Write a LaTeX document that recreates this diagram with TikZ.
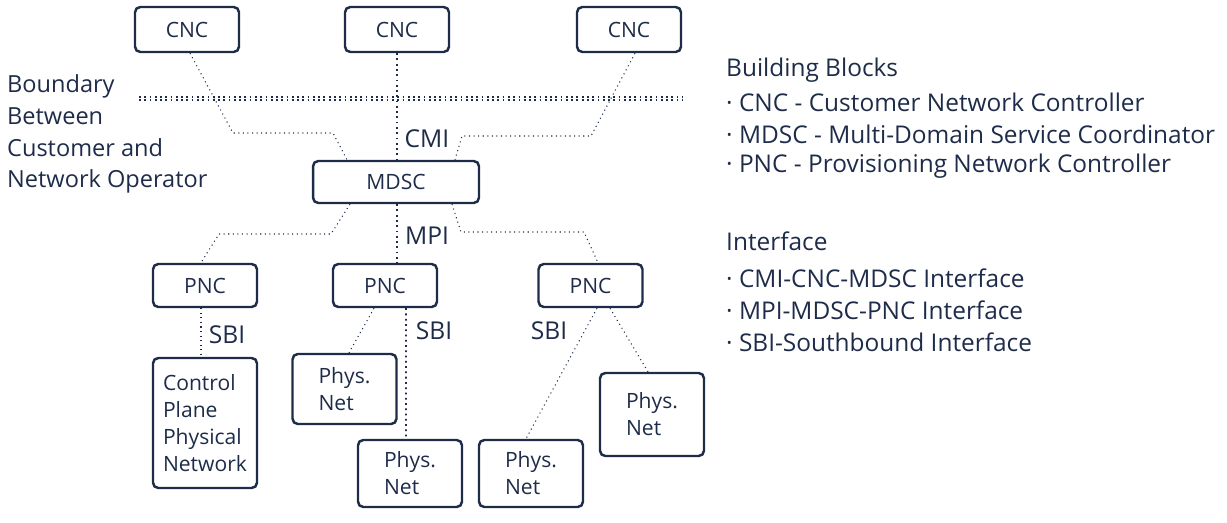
\documentclass[tikz,border=0pt]{standalone}
\usepackage{fontspec}
\setmainfont{Open Sans}
\definecolor{navy}{RGB}{30,44,74}

\begin{document}
\begin{tikzpicture}[x=0.02cm,y=-0.02cm,
    every node/.style={text=navy},
    block/.style={draw=navy, line width=1.4pt, rounded corners=3pt,
      minimum width=2.08cm, minimum height=0.86cm, inner sep=0pt,
      font=\fontsize{12}{15.3}\selectfont, align=left},
    link/.style={draw=navy, line width=0.6pt, dotted},
    trunk/.style={draw=navy, line width=1pt, dotted},
    tag/.style={font=\fontsize{14}{16}\selectfont},
    legend/.style={anchor=west, font=\fontsize{13.9}{18.1}\selectfont}]
  \useasboundingbox (0,0) rectangle (1227,523);
  \node[block, minimum height=0.9cm] (cnc1) at (187,29.5) {CNC};
  \node[block, minimum height=0.9cm] (cnc2) at (397,29.5) {CNC};
  \node[block, minimum height=0.9cm] (cnc3) at (629,29.5) {CNC};
  \node[block, minimum width=3.32cm, minimum height=0.84cm] (mdsc) at (396,182) {MDSC};
  \node[block] (pnc1) at (205,285.5) {PNC};
  \node[block] (pnc2) at (385,285.5) {PNC};
  \node[block] (pnc3) at (590.5,285.5) {PNC};
  \node[block, minimum height=2.6cm]  (ctrl)  at (205,423)   {Control\\Plane\\Physical\\Network};
  \node[block, minimum height=1.4cm]  (physa) at (344.5,389) {Phys.\\Net};
  \node[block, minimum height=1.34cm] (physb) at (410,473.5) {Phys.\\Net};
  \node[block, minimum height=1.34cm] (physc) at (531,473.5) {Phys.\\Net};
  \node[block, minimum height=1.66cm] (physd) at (652,414.5) {Phys.\\Net};
  \node[tag] (cmi)  at (427,139) {CMI};
  \node[tag] (mpi)  at (427,236) {MPI};
  \node[tag] (sbi1) at (227,335) {SBI};
  \node[tag] (sbi2) at (434,331) {SBI};
  \node[tag] (sbi3) at (549,331) {SBI};
  %% customer / operator boundary
  \coordinate (bl) at (139,98.5);
  \coordinate (br) at (682,98.5);
  \draw[trunk] ([yshift=0.035cm]bl) -- ([yshift=0.035cm]br);
  \draw[trunk] ([yshift=-0.035cm]bl) -- ([yshift=-0.035cm]br);
  \node[legend, align=left, font=\fontsize{13.4}{18.1}\selectfont] (boundary) at (1,134)
    {Boundary\\Between\\Customer and\\Network Operator};
  \node[legend] (bb)   at (720,70)  {Building Blocks};
  \node[legend] (bb1)  at (720,102) {· CNC - Customer Network Controller};
  \node[legend] (bb2)  at (720,134) {· MDSC - Multi-Domain Service Coordinator};
  \node[legend] (bb3)  at (720,166) {· PNC - Provisioning Network Controller};
  \node[legend] (itf)  at (720,241) {Interface};
  \node[legend] (itf1) at (720,278) {· CMI-CNC-MDSC Interface};
  \node[legend] (itf2) at (720,310) {· MPI-MDSC-PNC Interface};
  \node[legend] (itf3) at (720,342) {· SBI-Southbound Interface};
  %% CMI
  \draw[link] ([xshift=0.06cm]cnc1.south) -- (233,133) -- (333,133) -- ([xshift=-0.98cm]mdsc.north);
  \draw[trunk] (cnc2.south) -- (cnc2.south |- mdsc.north);
  \draw[link] ([xshift=0.12cm]cnc3.south) -- (591,136) -- (462,136) -- ([xshift=1.18cm]mdsc.north);
  %% MPI
  \draw[link] ([xshift=-0.92cm]mdsc.south) -- (331,234) -- (219,234) -- ([xshift=-0.08cm]pnc1.north);
  \draw[trunk] ([xshift=0.02cm]mdsc.south) -- ([xshift=0.02cm]mdsc.south |- pnc2.north);
  \draw[link] ([xshift=1.12cm]mdsc.south) -- (461,232) -- (584,232) -- ([xshift=0.15cm]pnc3.north);
  %% SBI
  \draw[link] ([xshift=-0.08cm]pnc1.south) -- ([xshift=-0.08cm]ctrl.north);
  \draw[link] ([xshift=-0.22cm]pnc2.south) -- ([xshift=0.09cm]physa.north);
  \draw[trunk] ([xshift=0.42cm]pnc2.south) -- ([xshift=-0.08cm]physb.north);
  \draw[link] ([xshift=0.13cm]pnc3.south) -- ([xshift=-0.1cm]physc.north);
  \draw[link] ([xshift=0.39cm]pnc3.south) -- ([xshift=-0.08cm]physd.north);
\end{tikzpicture}
\end{document}
